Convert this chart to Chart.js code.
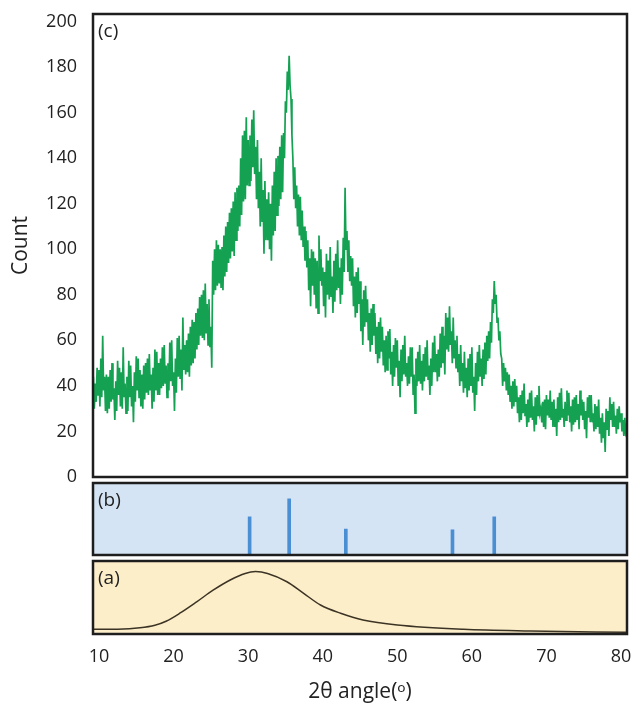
<!DOCTYPE html>
<html>
<head>
<meta charset="utf-8">
<script src="https://cdn.jsdelivr.net/npm/chart.js@4/dist/chart.umd.min.js"></script>
<style>
  body { margin: 0; background: #fff; }
  .panel { position: absolute; left: 0; width: 632px; }
</style>
</head>
<body>
<div class="panel" style="top:0;height:490px"><canvas id="chartC"></canvas></div>
<div class="panel" style="top:478px;height:80px"><canvas id="chartB"></canvas></div>
<div class="panel" style="top:556px;height:149px"><canvas id="chartA"></canvas></div>
<script>
const X_MIN = 9.2
const X_MAX = 80.8
const X_TICKS = [10, 20, 30, 40, 50, 60, 70, 80]
const Y_TICKS = [0, 20, 40, 60, 80, 100, 120, 140, 160, 180, 200]

// (c) measured pattern, one value every 0.125 deg from 9.25
const SCAN_START = 9.25
const SCAN_STEP = 0.125
const COUNTS = [
  44, 30, 41, 33, 48, 36,
  47, 31, 52, 35, 62, 38, 44, 29,
  45, 28, 44, 30, 47, 33, 50, 34,
  39, 25, 42, 29, 51, 36, 48, 31,
  46, 30, 57, 35, 41, 28, 44, 29,
  51, 35, 49, 31, 40, 24, 46, 33,
  53, 38, 52, 35, 47, 31, 45, 30,
  49, 34, 50, 37, 52, 36, 54, 38,
  45, 30, 48, 33, 56, 38, 55, 36,
  50, 36, 52, 39, 57, 40, 58, 41,
  49, 35, 50, 38, 59, 42, 60, 40,
  46, 29, 52, 37, 61, 44, 62, 43,
  56, 38, 70, 47, 58, 45, 60, 46,
  63, 44, 66, 49, 69, 50, 68, 52,
  72, 56, 74, 58, 79, 62, 80, 61,
  82, 60, 85, 63, 76, 58, 78, 57,
  66, 48, 95, 80, 100, 82, 104, 84,
  102, 85, 100, 83, 101, 82, 106, 88,
  110, 90, 112, 94, 116, 96, 118, 99,
  121, 97, 125, 104, 127, 108, 128, 110,
  140, 115, 150, 121, 152, 122, 158, 128,
  148, 128, 150, 130, 157, 136, 161, 133,
  145, 122, 148, 118, 134, 110, 140, 112,
  126, 98, 130, 104, 122, 104, 125, 100,
  120, 95, 128, 106, 134, 108, 140, 115,
  141, 119, 145, 122, 150, 125, 151, 140,
  165, 160, 178, 170, 185, 172, 166, 150,
  140, 122, 136, 118, 128, 110, 124, 106,
  123, 104, 117, 101, 110, 95, 108, 92,
  104, 82, 96, 75, 100, 84, 99, 80,
  96, 74, 95, 72, 106, 86, 100, 84,
  92, 75, 90, 70, 98, 80, 95, 78,
  101, 79, 88, 72, 95, 77, 98, 82,
  104, 83, 92, 76, 96, 80, 105, 90,
  127, 100, 108, 90, 104, 86, 97, 84,
  96, 75, 88, 70, 90, 72, 92, 76,
  86, 64, 78, 58, 82, 66, 84, 68,
  78, 60, 72, 55, 74, 58, 76, 62,
  72, 54, 66, 50, 68, 52, 70, 55,
  66, 49, 60, 46, 62, 47, 64, 52,
  65, 45, 55, 40, 58, 44, 61, 48,
  60, 40, 51, 35, 56, 42, 58, 45,
  62, 44, 50, 40, 53, 41, 57, 44,
  57, 36, 45, 28, 52, 40, 55, 42,
  58, 41, 51, 38, 54, 42, 57, 44,
  60, 43, 49, 36, 52, 40, 59, 46,
  62, 46, 54, 42, 56, 44, 63, 48,
  66, 50, 62, 45, 72, 56, 70, 55,
  75, 58, 64, 50, 70, 52, 60, 48,
  62, 46, 54, 40, 58, 42, 50, 37,
  55, 39, 48, 35, 52, 38, 54, 40,
  57, 37, 44, 29, 50, 36, 55, 42,
  58, 44, 52, 40, 56, 43, 59, 45,
  62, 51, 64, 52, 68, 59, 78, 72,
  86, 76, 80, 68, 70, 60, 64, 54,
  52, 40, 50, 42, 48, 38, 46, 36,
  45, 33, 40, 30, 42, 31, 43, 33,
  40, 28, 35, 24, 36, 25, 38, 28,
  41, 27, 32, 22, 34, 24, 37, 26,
  38, 25, 31, 20, 35, 23, 36, 27,
  40, 28, 30, 24, 33, 22, 34, 21,
  36, 27, 34, 26, 38, 25, 33, 22,
  34, 22, 30, 18, 35, 24, 37, 25,
  39, 26, 30, 22, 33, 25, 38, 27,
  37, 24, 31, 20, 34, 23, 35, 24,
  36, 25, 32, 21, 38, 27, 34, 25,
  33, 21, 29, 17, 35, 26, 36, 24,
  36, 24, 28, 20, 32, 21, 31, 22,
  34, 19, 26, 15, 28, 17, 24, 11,
  30, 21, 29, 18, 35, 25, 32, 22,
  33, 22, 27, 19, 30, 21, 31, 24,
  28, 20, 25, 18, 26, 19, 20,
]

// (b) reference lines, relative heights
const REF_ANGLES = [30.2, 35.5, 43.1, 57.4, 63.0]
const REF_HEIGHTS = [53, 78, 36, 35, 53]

// (a) amorphous hump, relative heights
const HUMP_ANGLES = [9.3, 12.5, 15.5, 17.5, 19.0, 20.9, 23.1, 25.3, 27.6, 29.6, 31.0, 32.6, 35.2, 37.4, 39.7, 42.4, 45.4, 50.0, 58.9, 67.8, 80.7]
const HUMP_VALUES = [6.4, 6.6, 8.5, 12, 17.5, 28.8, 44, 60, 74, 83, 85.5, 83, 71.6, 56, 39.7, 28.4, 19.2, 12.3, 6.4, 4.1, 2.3]

const FONT = '"Open Sans", "Noto Sans", sans-serif'
Chart.defaults.font.family = FONT
Chart.defaults.color = '#222'
Chart.defaults.animation = false

const panelFrame = {
  id: 'panelFrame',
  beforeDraw(chart, args, opts) {
    const { ctx, chartArea: a } = chart
    if (!opts.fill) return
    ctx.save()
    ctx.fillStyle = opts.fill
    ctx.fillRect(a.left, a.top, a.width, a.height)
    ctx.restore()
  },
  afterDraw(chart, args, opts) {
    const { ctx, chartArea: a } = chart
    ctx.save()
    ctx.lineWidth = 2.5
    ctx.strokeStyle = '#1e1e1e'
    ctx.strokeRect(a.left, a.top, a.width, a.height)
    ctx.fillStyle = '#222'
    ctx.font = '19px ' + FONT
    ctx.textBaseline = 'middle'
    ctx.fillText(opts.label, a.left + 5, a.top + 18)
    ctx.restore()
  },
}

const hiddenX = { type: 'linear', min: X_MIN, max: X_MAX, display: false, offset: false }

new Chart(document.getElementById('chartC'), {
  type: 'line',
  data: {
    datasets: [{
      data: COUNTS.map((y, i) => ({ x: SCAN_START + i * SCAN_STEP, y })),
      borderColor: '#14a152',
      borderWidth: 1.7,
      pointRadius: 0,
      tension: 0,
    }],
  },
  options: {
    responsive: true,
    maintainAspectRatio: false,
    layout: { padding: { left: 0, right: 5, top: 14, bottom: 13 } },
    plugins: { legend: { display: false }, tooltip: { enabled: false }, panelFrame: { label: '(c)' } },
    scales: {
      x: hiddenX,
      y: {
        min: 0,
        max: 203.3,
        afterBuildTicks: (s) => { s.ticks = Y_TICKS.map((v) => ({ value: v })) },
        afterFit: (s) => { s.width = 93; s.paddingTop = 0; s.paddingBottom = 0 },
        grid: { display: false, drawTicks: false },
        border: { display: false },
        ticks: { padding: 16, font: { size: 18 } },
        title: { display: true, text: 'Count', font: { size: 21 }, padding: { top: 8, bottom: 0 } },
      },
    },
  },
  plugins: [panelFrame],
})

new Chart(document.getElementById('chartB'), {
  type: 'bar',
  data: {
    datasets: [{
      data: REF_ANGLES.map((x, i) => ({ x, y: REF_HEIGHTS[i] })),
      backgroundColor: '#4a8fd4',
      barThickness: 3,
    }],
  },
  options: {
    responsive: true,
    maintainAspectRatio: false,
    layout: { padding: { left: 93, right: 5, top: 5, bottom: 3 } },
    plugins: { legend: { display: false }, tooltip: { enabled: false }, panelFrame: { label: '(b)', fill: '#d5e4f5' } },
    scales: {
      x: hiddenX,
      y: { min: 0, max: 100, display: false },
    },
  },
  plugins: [panelFrame],
})

new Chart(document.getElementById('chartA'), {
  type: 'line',
  data: {
    datasets: [{
      data: HUMP_ANGLES.map((x, i) => ({ x, y: HUMP_VALUES[i] })),
      borderColor: '#3b3324',
      borderWidth: 1.5,
      pointRadius: 0,
      cubicInterpolationMode: 'monotone',
    }],
  },
  options: {
    responsive: true,
    maintainAspectRatio: false,
    layout: { padding: { left: 93, right: 5, top: 5, bottom: 0 } },
    plugins: { legend: { display: false }, tooltip: { enabled: false }, panelFrame: { label: '(a)', fill: '#fdeeca' } },
    scales: {
      x: {
        type: 'linear',
        min: X_MIN,
        max: X_MAX,
        afterBuildTicks: (s) => { s.ticks = X_TICKS.map((v) => ({ value: v })) },
        afterFit: (s) => { s.height = 71; s.paddingLeft = 0; s.paddingRight = 0 },
        grid: { display: false, drawTicks: false },
        border: { display: false },
        ticks: { padding: 12, maxRotation: 0, font: { size: 18 } },
        title: { display: true, text: '2θ angle(ᵒ)', font: { size: 21 }, padding: { top: 0, bottom: 0 } },
      },
      y: { min: 0, max: 100, display: false },
    },
  },
  plugins: [panelFrame],
})
</script>
</body>
</html>
